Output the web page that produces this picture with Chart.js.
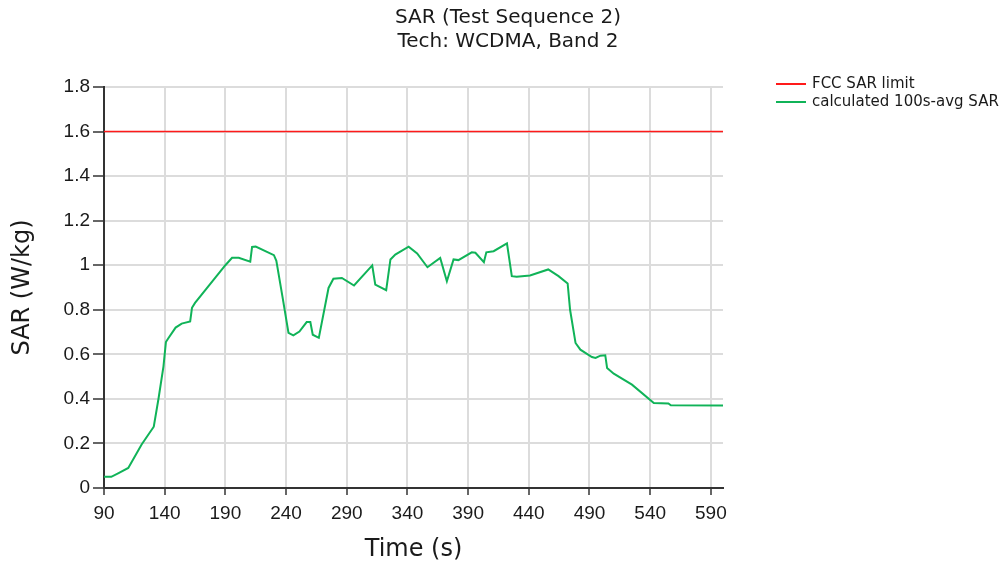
<!DOCTYPE html>
<html><head><meta charset="utf-8">
<script src="https://cdn.jsdelivr.net/npm/chart.js@4.4.1/dist/chart.umd.min.js"></script>
<style>html,body{margin:0;padding:0;background:#fff;}#wrap{width:1001px;height:568px;}</style>
</head><body><div id="wrap"><canvas id="c" width="1001" height="568"></canvas></div>
<script>
const titleLines = ['SAR (Test Sequence 2)', 'Tech: WCDMA, Band 2'];
const xTitle = 'Time (s)';
const yTitle = 'SAR (W/kg)';
const seriesNames = ['FCC SAR limit', 'calculated 100s-avg SAR'];
const xTicks = [90, 140, 190, 240, 290, 340, 390, 440, 490, 540, 590];
const yTicks = [0, 0.2, 0.4, 0.6, 0.8, 1.0, 1.2, 1.4, 1.6, 1.8];
const yTickLabels = ['0', '0.2', '0.4', '0.6', '0.8', '1', '1.2', '1.4', '1.6', '1.8'];
const limitTimes = [90, 600];
const limitValues = [1.6, 1.6];
const sarTimes = [90, 96, 102, 110, 121, 131, 135, 139, 141, 143, 149, 154, 161, 162.5, 165, 190, 195.5, 201, 210.5, 212, 215, 230, 232, 237, 242, 246, 251, 257, 260, 262, 267, 275, 279, 286, 296, 311, 313.5, 322.5, 326, 330, 341, 348, 356.5, 367, 372.5, 378, 382, 393, 396, 403, 405, 411, 422, 426, 430, 441, 456, 464.5, 472, 474, 478.5, 482.5, 492, 495, 499, 503, 504.5, 510, 525, 543, 555, 557, 600];
const sarValues = [0.05, 0.05, 0.067, 0.09, 0.195, 0.275, 0.404, 0.546, 0.655, 0.672, 0.72, 0.738, 0.748, 0.809, 0.831, 1.0, 1.033, 1.033, 1.016, 1.082, 1.084, 1.045, 1.02, 0.86, 0.696, 0.685, 0.702, 0.745, 0.745, 0.688, 0.674, 0.898, 0.939, 0.943, 0.909, 0.999, 0.913, 0.888, 1.026, 1.048, 1.083, 1.053, 0.991, 1.033, 0.928, 1.026, 1.023, 1.058, 1.056, 1.014, 1.058, 1.063, 1.098, 0.951, 0.948, 0.954, 0.981, 0.951, 0.918, 0.80, 0.651, 0.621, 0.588, 0.584, 0.594, 0.596, 0.539, 0.513, 0.464, 0.382, 0.379, 0.371, 0.37];

const toPoints = (xs, ys) => xs.map((x, i) => ({x: x, y: ys[i]}));

const bgPlugin = {
  id: 'bg',
  beforeDraw(chart) {
    const c = chart.ctx;
    c.save(); c.fillStyle = '#fff'; c.fillRect(0, 0, chart.width, chart.height); c.restore();
  }
};
const legendPlugin = {
  id: 'sideLegend',
  afterDraw(chart) {
    const c = chart.ctx;
    c.save();
    c.font = '15px "DejaVu Sans"';
    c.textBaseline = 'middle';
    c.textAlign = 'left';
    chart.data.datasets.forEach((ds, i) => {
      const y = 84 + i * 18;
      c.strokeStyle = ds.borderColor;
      c.lineWidth = 2;
      c.beginPath(); c.moveTo(776, y); c.lineTo(806, y); c.stroke();
      c.fillStyle = '#1a1a1a';
      c.fillText(ds.label, 812, y);
    });
    c.restore();
  }
};

new Chart(document.getElementById('c'), {
  type: 'line',
  data: {
    datasets: [
      {label: seriesNames[0], data: toPoints(limitTimes, limitValues), borderColor: '#ff1a1a', borderWidth: 1.6, pointRadius: 0, tension: 0},
      {label: seriesNames[1], data: toPoints(sarTimes, sarValues), borderColor: '#10b358', borderWidth: 2, pointRadius: 0, tension: 0}
    ]
  },
  options: {
    responsive: false,
    animation: false,
    devicePixelRatio: 1,
    layout: {padding: {left: 15, right: 0, top: 0, bottom: 0}},
    plugins: {
      legend: {display: false},
      tooltip: {enabled: false},
      title: {
        display: true,
        text: titleLines,
        color: '#1a1a1a',
        font: {family: 'DejaVu Sans', size: 20, weight: 'normal', lineHeight: 24 / 20},
        padding: {top: 6, bottom: 33}
      }
    },
    scales: {
      x: {
        type: 'linear',
        min: 90, max: 600,
        afterBuildTicks: s => { s.ticks = xTicks.map(v => ({value: v})); },
        afterFit: s => { s.height = 80; },
        grid: {color: '#dcdcdc', lineWidth: 2, tickLength: 7, tickColor: '#333', tickWidth: 1.5},
        border: {color: '#333', width: 2},
        ticks: {color: '#1a1a1a', font: {family: 'Liberation Sans', size: 19}, padding: 7, maxRotation: 0, autoSkip: false},
        title: {display: true, text: xTitle, color: '#1a1a1a', font: {family: 'DejaVu Sans', size: 24, lineHeight: 1}, padding: {top: 0, bottom: 6}}
      },
      y: {
        type: 'linear',
        min: 0, max: 1.8,
        afterBuildTicks: s => { s.ticks = yTicks.map(v => ({value: v})); },
        afterFit: s => { s.width = 89; },
        grid: {color: '#dcdcdc', lineWidth: 2, tickLength: 11, tickColor: '#333', tickWidth: 1.5},
        border: {color: '#333', width: 2},
        ticks: {color: '#1a1a1a', font: {family: 'Liberation Sans', size: 19}, padding: 3, callback: (v, i) => yTickLabels[i]},
        title: {display: true, text: yTitle, color: '#1a1a1a', font: {family: 'DejaVu Sans', size: 24, lineHeight: 1}, padding: {top: -4, bottom: 0}}
      },
      yR: {
        position: 'right',
        display: true,
        afterFit: s => { s.width = 278; },
        grid: {display: false, drawTicks: false},
        border: {display: false},
        ticks: {display: false}
      }
    }
  },
  plugins: [bgPlugin, legendPlugin]
});
</script>
</body></html>
